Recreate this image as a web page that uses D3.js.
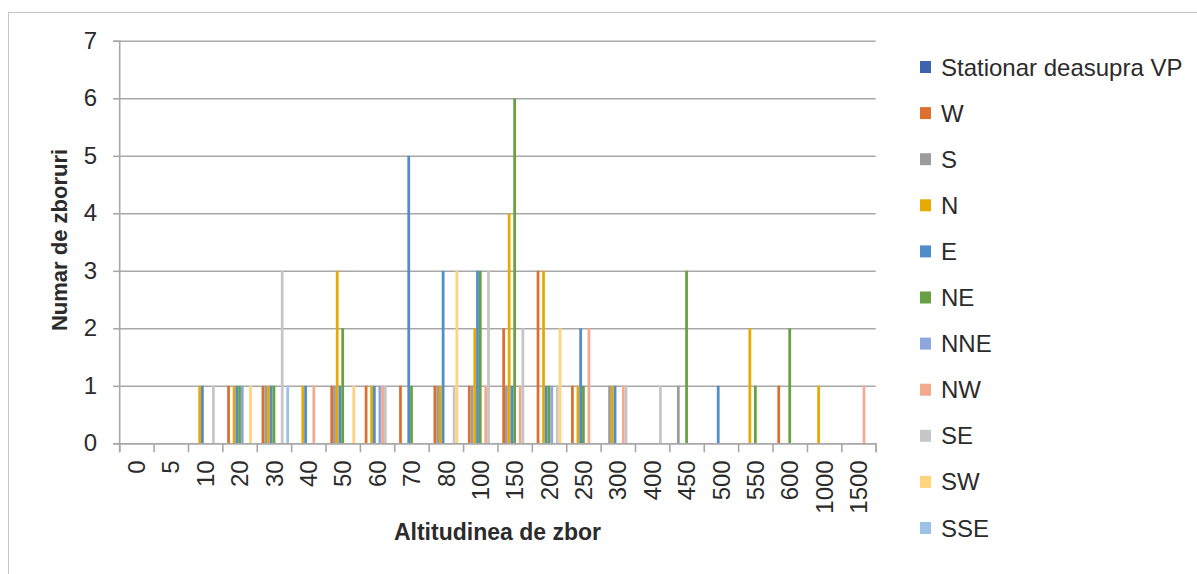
<!DOCTYPE html>
<html>
<head>
<meta charset="utf-8">
<script src="https://cdn.jsdelivr.net/npm/d3@7"></script>
<style>
  html, body { margin: 0; padding: 0; background: #fff; }
  svg { display: block; }
</style>
</head>
<body>
<svg id="chart" width="1197" height="574"></svg>
<script>
// Flight altitude categories (m)
const categories = ["0","5","10","20","30","40","50","60","70","80","100","150","200","250","300","400","450","500","550","600","1000","1500"];

// Number of flights per direction at each altitude
const stationar = [0,0,0,0,0,0,0,0,0,0,0,0,0,0,0,0,0,0,0,0,0,0];
const dirW      = [0,0,0,1,1,0,1,1,1,1,1,2,3,1,0,0,0,0,0,1,0,0];
const dirS      = [0,0,0,0,1,0,1,0,0,1,1,1,0,0,1,0,1,0,0,0,0,0];
const dirN      = [0,0,1,1,1,1,3,1,0,1,2,4,3,1,1,0,0,0,2,0,1,0];
const dirE      = [0,0,1,1,1,1,1,1,5,3,3,1,1,2,1,0,0,1,0,0,0,0];
const dirNE     = [0,0,0,1,1,0,2,0,1,0,3,6,1,1,0,0,3,0,1,2,0,0];
const dirNNE    = [0,0,0,1,0,0,0,1,0,0,0,0,1,0,0,0,0,0,0,0,0,0];
const dirNW     = [0,0,0,0,0,1,0,1,0,0,1,1,0,2,1,0,0,0,0,0,0,1];
const dirSE     = [0,0,1,0,3,0,0,1,0,1,3,2,1,0,1,1,0,0,0,0,0,0];
const dirSW     = [0,0,0,1,0,0,1,0,0,3,0,0,2,0,0,0,0,0,0,0,0,0];
const dirSSE    = [0,0,0,0,1,0,0,0,0,0,0,0,0,0,0,0,0,0,0,0,0,0];

const seriesNames  = ["Stationar deasupra VP","W","S","N","E","NE","NNE","NW","SE","SW","SSE"];
const seriesValues = [stationar, dirW, dirS, dirN, dirE, dirNE, dirNNE, dirNW, dirSE, dirSW, dirSSE];
const seriesColors = ["#3E64B0","#DD7030","#9C9C9C","#E6AA00","#508DCC","#67A143","#8FA6DC","#F2A98E","#C6C6C6","#FFD47C","#9EC2E6"];
const yTicks = [0,1,2,3,4,5,6,7];

const svg = d3.select("#chart");
const plot = { left: 119.2, right: 875.7, top: 40.8, bottom: 443.3 };
const gridColor = "#a8a8a8";
const textColor = "#2b2b2b";

// outer chart frame
svg.append("rect")
  .attr("x", 8.5).attr("y", 12.5)
  .attr("width", 1300).attr("height", 700)
  .attr("fill", "none").attr("stroke", "#c4c4c4").attr("stroke-width", 1);

const x = d3.scaleBand().domain(categories).range([plot.left, plot.right]).paddingInner(0).paddingOuter(0);
const xs = d3.scaleBand().domain(seriesNames).range([0, x.bandwidth()]).paddingInner(0).paddingOuter(0.75);
const y = d3.scaleLinear().domain([0, 7]).range([plot.bottom, plot.top]);

// horizontal gridlines
const grid = svg.append("g")
  .attr("transform", `translate(${plot.left},0)`)
  .call(d3.axisLeft(y).tickValues(yTicks).tickSize(-(plot.right - plot.left)).tickFormat(""));
grid.select(".domain").remove();
grid.selectAll("line").attr("stroke", gridColor).attr("stroke-width", 1.6);

// y axis with outer ticks and labels
const yAxis = svg.append("g")
  .attr("transform", `translate(${plot.left},0)`)
  .call(d3.axisLeft(y).tickValues(yTicks).tickSize(6).tickPadding(16).tickFormat(d3.format("d")));
yAxis.select(".domain").attr("stroke", gridColor).attr("stroke-width", 1.6);
yAxis.selectAll("line").attr("stroke", gridColor).attr("stroke-width", 1.6);
yAxis.selectAll("text")
  .attr("fill", textColor)
  .style("font-family", "'Liberation Sans', Arial, sans-serif")
  .style("font-size", "24px");

// bars
const groups = svg.append("g").selectAll("g")
  .data(seriesNames)
  .join("g")
  .attr("fill", (d, i) => seriesColors[i]);

groups.selectAll("rect")
  .data((name, i) => seriesValues[i].map((v, j) => ({ name, cat: categories[j], v })))
  .join("rect")
  .filter(d => d.v > 0)
  .attr("x", d => x(d.cat) + xs(d.name))
  .attr("width", xs.bandwidth())
  .attr("y", d => y(d.v))
  .attr("height", d => y(0) - y(d.v));

// x axis line with ticks on category boundaries
const xb = d3.scaleLinear().domain([0, categories.length]).range([plot.left, plot.right]);
const xTickAxis = svg.append("g")
  .attr("transform", `translate(0,${plot.bottom})`)
  .call(d3.axisBottom(xb).tickValues(d3.range(categories.length + 1)).tickSize(9).tickFormat(""));
xTickAxis.select(".domain").attr("stroke", gridColor).attr("stroke-width", 1.6);
xTickAxis.selectAll("line").attr("stroke", gridColor).attr("stroke-width", 1.6);

// rotated category labels
const xLabels = svg.append("g")
  .attr("transform", `translate(0,${plot.bottom})`)
  .call(d3.axisBottom(x).tickSize(0).tickPadding(0));
xLabels.select(".domain").remove();
xLabels.selectAll("text")
  .attr("fill", textColor)
  .style("font-family", "'Liberation Sans', Arial, sans-serif")
  .style("font-size", "24px")
  .attr("text-anchor", "end")
  .attr("transform", "rotate(-90)")
  .attr("x", -17)
  .attr("y", 0)
  .attr("dy", "0.36em");

// axis titles
svg.append("text")
  .attr("x", (plot.left + plot.right) / 2)
  .attr("y", 532)
  .attr("text-anchor", "middle")
  .attr("dominant-baseline", "central")
  .attr("fill", textColor)
  .style("font-family", "'Liberation Sans', Arial, sans-serif")
  .style("font-size", "23px")
  .style("font-weight", "bold")
  .text("Altitudinea de zbor");

svg.append("text")
  .attr("transform", "translate(59,240) rotate(-90)")
  .attr("text-anchor", "middle")
  .attr("dominant-baseline", "central")
  .attr("fill", textColor)
  .style("font-family", "'Liberation Sans', Arial, sans-serif")
  .style("font-size", "22px")
  .style("font-weight", "bold")
  .text("Numar de zboruri");

// legend
const legend = svg.append("g").selectAll("g")
  .data(seriesNames)
  .join("g")
  .attr("transform", (d, i) => `translate(920,${67 + i * 46.1})`);

legend.append("rect")
  .attr("x", 0).attr("y", -6)
  .attr("width", 11).attr("height", 12)
  .attr("fill", (d, i) => seriesColors[i]);

legend.append("text")
  .attr("x", 21).attr("y", 0)
  .attr("dominant-baseline", "central")
  .attr("fill", textColor)
  .style("font-family", "'Liberation Sans', Arial, sans-serif")
  .style("font-size", "24px")
  .text(d => d);
</script>
</body>
</html>
